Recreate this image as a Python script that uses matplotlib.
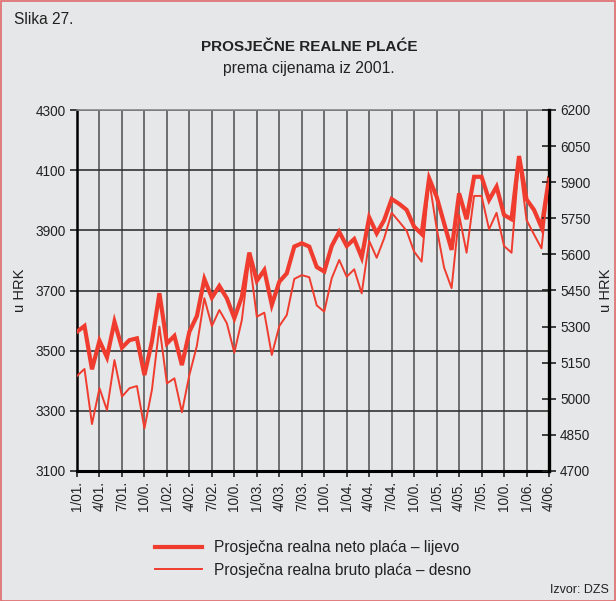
import matplotlib
matplotlib.use("Agg")
import matplotlib.pyplot as plt
from matplotlib.lines import Line2D
from matplotlib.patches import Rectangle

plt.rcParams['font.family'] = ['Liberation Sans', 'DejaVu Sans']

# ---- data ----
tick_labels = ["1/01.", "4/01.", "7/01.", "10/0.", "1/02.", "4/02.", "7/02.", "10/0.",
               "1/03.", "4/03.", "7/03.", "10/0.", "1/04.", "4/04.", "7/04.", "10/0.",
               "1/05.", "4/05.", "7/05.", "10/0.", "1/06.", "4/06."]

neto = [3563, 3582, 3438, 3533, 3478, 3596, 3510, 3535, 3541, 3419, 3530, 3691,
        3524, 3549, 3452, 3563, 3615, 3738, 3676, 3715, 3674, 3608, 3679, 3826,
        3732, 3768, 3652, 3729, 3757, 3846, 3857, 3846, 3778, 3763, 3848, 3895,
        3848, 3871, 3810, 3943, 3890, 3934, 4004, 3988, 3968, 3912, 3888, 4073,
        4012, 3923, 3835, 4023, 3937, 4078, 4078, 4001, 4045, 3951, 3937, 4147,
        4003, 3968, 3910, 4073]

bruto = [5095, 5124, 4895, 5044, 4953, 5161, 5009, 5044, 5053, 4877, 5037, 5300,
         5064, 5085, 4944, 5099, 5220, 5418, 5302, 5369, 5314, 5192, 5327, 5584,
         5341, 5358, 5182, 5302, 5348, 5498, 5514, 5505, 5388, 5362, 5501, 5577,
         5507, 5538, 5438, 5656, 5586, 5667, 5773, 5736, 5698, 5611, 5570, 5909,
         5710, 5545, 5460, 5764, 5607, 5843, 5843, 5704, 5773, 5635, 5607, 5992,
         5743, 5683, 5625, 5916]

left_ticks = [3100, 3300, 3500, 3700, 3900, 4100, 4300]
right_ticks = [4700, 4850, 5000, 5150, 5300, 5450, 5600, 5750, 5900, 6050, 6200]

series_labels = ["Prosječna realna neto plaća – lijevo",
                 "Prosječna realna bruto plaća – desno"]

# ---- styling ----
BG = '#e6e7e8'
RED = '#f03c2e'
TXT = '#222222'

W, H = 616, 601
fig = plt.figure(figsize=(W / 100, H / 100), dpi=100, facecolor=BG)
ax = fig.add_axes([77 / W, 1 - 471 / H, (549 - 77) / W, (471 - 110) / H])
ax.set_facecolor(BG)

x = list(range(len(neto)))
xt = list(range(0, len(neto), 3))

ax.set_xlim(0, len(neto) - 1)
ax.set_ylim(left_ticks[0], left_ticks[-1])
ax.set_yticks(left_ticks)
ax.set_xticks(xt)
ax.set_xticklabels(tick_labels, rotation=90, fontsize=9.8, color=TXT)
ax.tick_params(axis='y', direction='out', length=5, width=1.2, pad=3,
               labelsize=9.8, colors=TXT)
ax.tick_params(axis='x', direction='out', length=4, width=1.2, pad=3,
               colors=TXT)

# grid
for v in xt[1:]:
    ax.axvline(v, color='#6e6e6e', lw=1.4, zorder=1)
for v in left_ticks[1:]:
    ax.axhline(v, color='#333333', lw=1.2, zorder=1)

ax.spines['top'].set_color('#888888')
ax.spines['top'].set_linewidth(1.2)
ax.spines['left'].set_linewidth(1.8)
ax.spines['bottom'].set_linewidth(2.2)
ax.spines['right'].set_visible(False)

ax.plot(x, neto, color=RED, lw=3.0, solid_joinstyle='miter', zorder=3)

ax2 = ax.twinx()
ax2.set_ylim(right_ticks[0], right_ticks[-1])
ax2.set_yticks(right_ticks)
ax2.tick_params(axis='y', direction='inout', length=10, width=1.2, pad=3,
                labelsize=9.8, colors=TXT)
ax2.spines['right'].set_linewidth(2.4)
ax2.spines['top'].set_visible(False)
ax2.spines['left'].set_visible(False)
ax2.spines['bottom'].set_visible(False)
ax2.plot(x, bruto, color=RED, lw=1.4, zorder=3)

ax.set_ylabel("u HRK", fontsize=10.5, color=TXT, labelpad=6)
ax2.set_ylabel("u HRK", fontsize=10.5, color=TXT, labelpad=6)

# titles
fig.text(14 / W, 1 - 20 / H, "Slika 27.", fontsize=11.2, color=TXT,
         ha='left', va='center')
fig.text(309 / W, 1 - 47 / H, "PROSJEČNE REALNE PLAĆE", fontsize=11,
         fontweight='bold', family=['Liberation Sans'], color=TXT,
         ha='center', va='center')
fig.text(309 / W, 1 - 68 / H, "prema cijenama iz 2001.", fontsize=11.3,
         color=TXT, ha='center', va='center')

# legend
handles = [Line2D([], [], color=RED, lw=3.0),
           Line2D([], [], color=RED, lw=1.4)]
fig.legend(handles, series_labels, loc='upper left',
           bbox_to_anchor=(155 / W, 1 - 540 / H), frameon=False,
           fontsize=11.2, handlelength=3.0, handletextpad=0.8,
           labelspacing=0.5, borderpad=0, borderaxespad=0,
           labelcolor=TXT)

fig.text(609 / W, 1 - 590 / H, "Izvor: DZS", fontsize=9, color=TXT,
         ha='right', va='center')

# red frame
fig.patches.append(Rectangle((0.5 / W, 0.5 / H), 1 - 1.5 / W, 1 - 1.5 / H,
                             transform=fig.transFigure, fill=False,
                             edgecolor='#e06a6a', lw=1.2))

fig.savefig("out.png", dpi=100, facecolor=BG)
